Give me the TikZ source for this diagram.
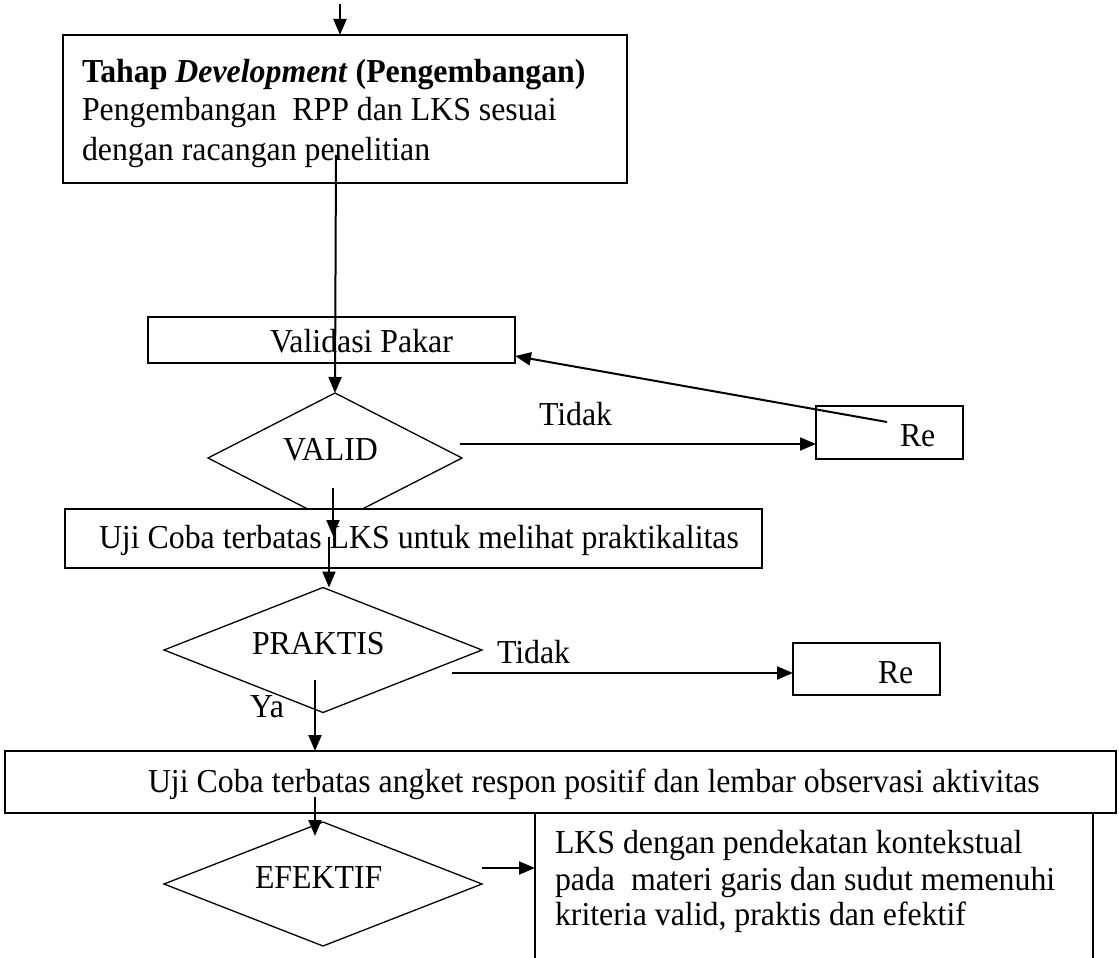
\documentclass[tikz,border=0pt]{standalone}
\usepackage{graphicx}
\usepackage{fontspec}
\setmainfont{Liberation Serif}
\usetikzlibrary{arrows.meta,shapes.geometric}
\newcommand\cw[1]{\scalebox{0.95}[1]{#1}}
\begin{document}
\begin{tikzpicture}[x=1pt,y=-1pt,
  box/.style={draw,line width=1.5pt,fill=white,inner sep=0pt,outer sep=0pt,anchor=north west},
  dia/.style={draw,diamond,line width=1.3pt,fill=white,inner sep=0pt,outer sep=0pt},
  arr/.style={line width=2pt,-{Triangle[length=16pt,width=13pt]}},
  txt/.style={inner sep=0pt,outer sep=0pt,anchor=base west,font=\fontsize{33.5}{40}\selectfont},
]
\useasboundingbox (0,0) rectangle (1119,958);
\clip (0,0) rectangle (1119,958);
% boxes and decisions
\node[box,minimum width=564pt,minimum height=148pt] (dev) at (63,35) {};
\node[box,minimum width=367pt,minimum height=46pt] (vp) at (148,317) {};
\node[dia,minimum width=254pt,minimum height=130pt] (valid) at (335,458) {};
\node[box,minimum width=147pt,minimum height=53pt] (re1) at (816,406) {};
\node[box,minimum width=697pt,minimum height=59pt] (uji1) at (65,509) {};
\node[dia,minimum width=318pt,minimum height=125pt] (praktis) at (323,650) {};
\node[box,minimum width=147pt,minimum height=52pt] (re2) at (793,643) {};
\node[box,minimum width=1111pt,minimum height=62pt] (uji2) at (5,751) {};
\node[dia,minimum width=318pt,minimum height=124pt] (efektif) at (323,884) {};
\node[box,minimum width=558pt,minimum height=200pt] (fin) at (535,813) {};
% texts
\node[txt] (t1) at (82,82) {\cw{\textbf{Tahap \textit{Development} (Pengembangan)}}};
\node[txt] (t2) at (82,121) {\cw{Pengembangan\ \ RPP dan LKS sesuai}};
\node[txt] (t3) at (82,160) {\cw{dengan racangan penelitian}};
\node[txt] (tvp) at (270,352) {\cw{Validasi Pakar}};
\node[txt] (tvalid) at (283,460) {\cw{VALID}};
\node[txt] (tidak1) at (539,425) {\cw{Tidak}};
\node[txt] (tre1) at (900,446) {\cw{Re}};
\node[txt] (tuji1) at (99,548) {\cw{Uji Coba terbatas LKS untuk melihat praktikalitas}};
\node[txt] (tprak) at (252,654) {\cw{PRAKTIS}};
\node[txt] (tidak2) at (497,663) {\cw{Tidak}};
\node[txt] (tre2) at (878,683) {\cw{Re}};
\node[txt] (ya) at (250,717) {\cw{Ya}};
\node[txt] (tuji2) at (148,792) {\cw{Uji Coba terbatas angket respon positif dan lembar observasi aktivitas}};
\node[txt] (tefek) at (255,888) {\cw{EFEKTIF}};
\node[txt] (f1) at (555,853) {\cw{LKS dengan pendekatan kontekstual}};
\node[txt] (f2) at (555,890) {\cw{pada\ \ materi garis dan sudut memenuhi}};
\node[txt] (f3) at (555,925) {\cw{kriteria valid, praktis dan efektif}};
% connector end points
\coordinate (top0) at (340,4);
\coordinate (s1) at (336,155);
\coordinate (v1) at (460,444);
\coordinate (fb) at (887,422);
\coordinate (v2) at (333,488);
\coordinate (v2e) at (333,536);
\coordinate (u1) at (329,537);
\coordinate (p1) at (452,673);
\coordinate (p2) at (315,680);
\coordinate (u2) at (315,797);
\coordinate (e0) at (315,836);
\coordinate (e1) at (482,868);
% connectors
\draw[arr] (top0) -- (top0 |- dev.north);
\draw[arr] (s1) -- (valid.north);
\draw[arr] (v1) -- (v1 -| re1.west);
\draw[arr] (fb) -- ([yshift=-16pt]vp.east);
\draw[arr] (v2) -- (v2e);
\draw[arr] (u1) -- (u1 |- praktis.north);
\draw[arr] (p1) -- (p1 -| re2.west);
\draw[arr] (p2) -- (p2 |- uji2.north);
\draw[arr] (u2) -- (e0);
\draw[arr] (e1) -- (e1 -| fin.west);
\end{tikzpicture}
\end{document}
